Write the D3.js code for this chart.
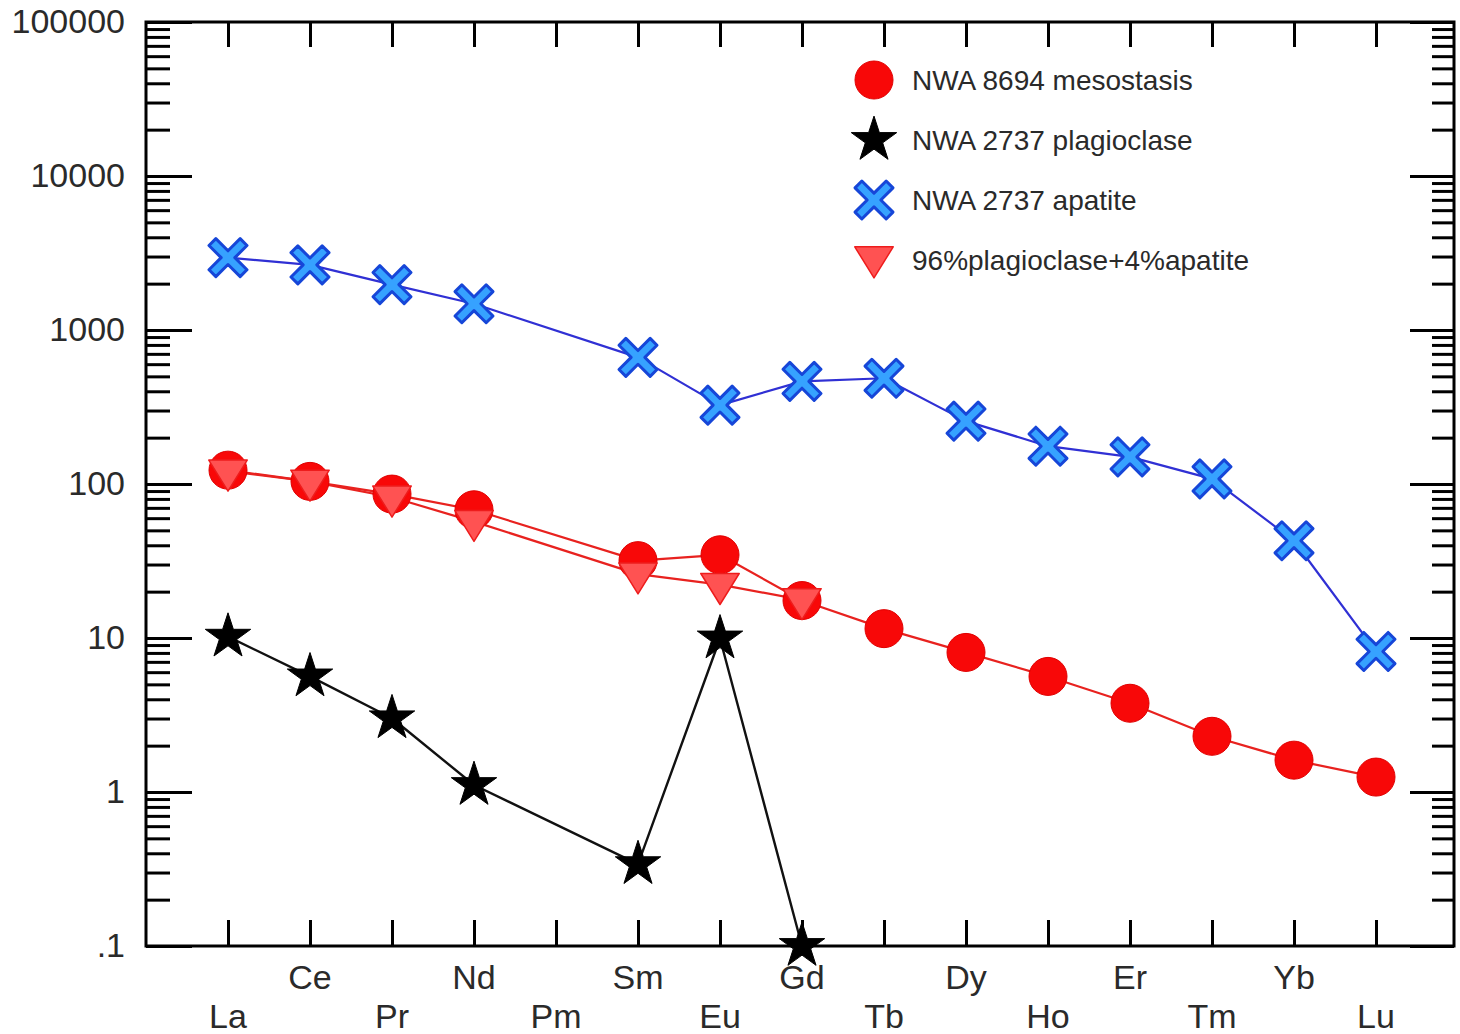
<!DOCTYPE html>
<html>
<head>
<meta charset="utf-8">
<script src="https://cdn.jsdelivr.net/npm/d3@7"></script>
<style>
  html, body { margin: 0; padding: 0; background: #fff; }
  svg { display: block; }
  text { font-family: "Liberation Sans", Arial, sans-serif; fill: #2a2a2a; }
</style>
</head>
<body>
<svg id="chart" width="1460" height="1034"></svg>
<script>
// ---- data ----
const elements = ["La","Ce","Pr","Nd","Pm","Sm","Eu","Gd","Tb","Dy","Ho","Er","Tm","Yb","Lu"];
const mesostasis  = [123, 104, 86, 68, null, 31.8, 34.7, 17.5, 11.5, 8.06, 5.63, 3.77, 2.30, 1.61, 1.25];
const plagioclase = [10.2, 5.63, 3.01, 1.11, null, 0.34, 9.93, 0.10, null, null, null, null, null, null, null];
const apatite     = [2950, 2650, 1970, 1480, null, 664, 325, 464, 486, 256, 176, 150, 108, 42.8, 8.18];
const mixture     = [121, 104, 82, 57, null, 26.0, 22.2, 17.7, null, null, null, null, null, null, null];
const yTickValues = [0.1, 1, 10, 100, 1000, 10000, 100000];
const yTickLabels = [".1", "1", "10", "100", "1000", "10000", "100000"];
const legendLabels = ["NWA 8694 mesostasis", "NWA 2737 plagioclase", "NWA 2737 apatite", "96%plagioclase+4%apatite"];

// ---- layout ----
const L = 146, R = 1454, T = 22, B = 946;
const svg = d3.select("#chart");

const x = d3.scaleLinear().domain([0, 14]).range([228, 1376]);
const y = d3.scaleLog().domain([0.1, 100000]).range([B, T]);

// ---- custom symbols ----
const xShape = {
  draw(ctx, size) {
    const a = Math.sqrt(size) / 2;      // half extent of the X
    const w = a * 0.36;                 // arm half-thickness (along axis offsets)
    const pts = [
      [0, -w], [a - w, -a], [a, -a + w], [w, 0], [a, a - w], [a - w, a],
      [0, w], [-a + w, a], [-a, a - w], [-w, 0], [-a, -a + w], [-a + w, -a]
    ];
    ctx.moveTo(pts[0][0], pts[0][1]);
    for (let i = 1; i < pts.length; i++) ctx.lineTo(pts[i][0], pts[i][1]);
    ctx.closePath();
  }
};
const downTri = {
  draw(ctx, size) {
    const h = Math.sqrt(size);
    ctx.moveTo(-h * 0.62, -h * 0.36);
    ctx.lineTo(h * 0.62, -h * 0.36);
    ctx.lineTo(0, h * 0.64);
    ctx.closePath();
  }
};

const series = [
  { name: legendLabels[0], values: mesostasis, line: "#e8221f", lw: 2.2,
    sym: d3.symbol().type(d3.symbolCircle).size(Math.PI * 19 * 19), fill: "#f80808", stroke: "#e00000", sw: 1 },
  { name: legendLabels[3], values: mixture, line: "#e8221f", lw: 2.2,
    sym: d3.symbol().type(downTri).size(31 * 31), fill: "#ff5252", stroke: "#ee1c1c", sw: 1.5 },
  { name: legendLabels[2], values: apatite, line: "#3030d4", lw: 2.2,
    sym: d3.symbol().type(xShape).size(38 * 38), fill: "#36a2ff", stroke: "#1646d8", sw: 3 },
  { name: legendLabels[1], values: plagioclase, line: "#111", lw: 2.4,
    sym: d3.symbol().type(d3.symbolStar).size(640), fill: "#000", stroke: "#000", sw: 1 }
];

const line = d3.line().x(d => x(d.i)).y(d => y(d.v));

// lines first
series.forEach(s => {
  const pts = s.values.map((v, i) => ({ i, v })).filter(d => d.v != null);
  svg.append("path").datum(pts)
    .attr("d", line)
    .attr("fill", "none")
    .attr("stroke", s.line)
    .attr("stroke-width", s.lw)
    .attr("stroke-linejoin", "round");
});
// markers
series.forEach(s => {
  const pts = s.values.map((v, i) => ({ i, v })).filter(d => d.v != null);
  svg.append("g").selectAll("path").data(pts).join("path")
    .attr("transform", d => `translate(${x(d.i)},${y(d.v)})`)
    .attr("d", s.sym())
    .attr("fill", s.fill)
    .attr("stroke", s.stroke)
    .attr("stroke-width", s.sw)
    .attr("stroke-linejoin", "round");
});

// ---- axes ----
const minorTicks = y.ticks().filter(v => !yTickValues.includes(v));
function styleAxis(g) {
  g.select(".domain").remove();
  g.selectAll(".tick line").attr("stroke", "#000").attr("stroke-width", 3);
}
// left
svg.append("g").attr("transform", `translate(${L},0)`)
  .call(d3.axisLeft(y).tickValues(minorTicks).tickSize(-24).tickFormat(""))
  .call(styleAxis);
svg.append("g").attr("transform", `translate(${L},0)`)
  .call(d3.axisLeft(y).tickValues(yTickValues).tickSize(-46).tickPadding(21)
        .tickFormat((d, i) => yTickLabels[i]))
  .call(styleAxis)
  .call(g => g.selectAll("text").attr("font-size", 34).attr("fill", "#2a2a2a")
        .style("font-family", "'Liberation Sans', Arial, sans-serif"));
// right
svg.append("g").attr("transform", `translate(${R},0)`)
  .call(d3.axisRight(y).tickValues(minorTicks).tickSize(-22).tickFormat(""))
  .call(styleAxis);
svg.append("g").attr("transform", `translate(${R},0)`)
  .call(d3.axisRight(y).tickValues(yTickValues).tickSize(-44).tickFormat(""))
  .call(styleAxis);
// top
svg.append("g").attr("transform", `translate(0,${T})`)
  .call(d3.axisTop(x).tickValues(d3.range(elements.length)).tickSize(-25).tickFormat(""))
  .call(styleAxis);
// bottom
svg.append("g").attr("transform", `translate(0,${B})`)
  .call(d3.axisBottom(x).tickValues(d3.range(elements.length)).tickSize(-26).tickFormat(""))
  .call(styleAxis);

// frame
svg.append("rect").attr("x", L).attr("y", T).attr("width", R - L).attr("height", B - T)
  .attr("fill", "none").attr("stroke", "#000").attr("stroke-width", 3);

// element labels in two rows
svg.append("g").selectAll("text").data(elements).join("text")
  .attr("x", (d, i) => x(i))
  .attr("y", (d, i) => i % 2 === 1 ? 977 : 1016)
  .attr("dy", "0.36em")
  .attr("text-anchor", "middle")
  .attr("font-size", 34)
  .text(d => d);

// ---- legend ----
const legendOrder = [0, 3, 2, 1];
const lg = svg.append("g");
legendOrder.forEach((si, k) => {
  const s = series[si];
  const cy = 80 + k * 60;
  lg.append("path")
    .attr("transform", `translate(874,${si === 1 ? cy - 2 : cy})`)
    .attr("d", s.sym())
    .attr("fill", s.fill).attr("stroke", s.stroke).attr("stroke-width", s.sw)
    .attr("stroke-linejoin", "round");
  lg.append("text")
    .attr("x", 912).attr("y", cy).attr("dy", "0.35em")
    .attr("font-size", 28)
    .text(s.name);
});
</script>
</body>
</html>
